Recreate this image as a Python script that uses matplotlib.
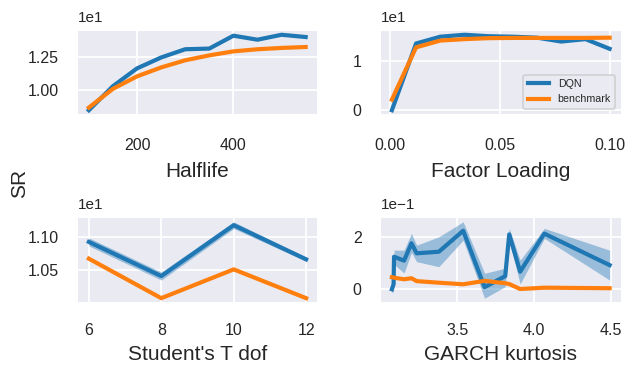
import matplotlib
matplotlib.use("Agg")
import matplotlib.pyplot as plt

# ---- Sharpe ratio sweeps: DQN vs benchmark ----
halflife = [100, 150, 200, 250, 300, 350, 400, 450, 500, 550]
halflife_dqn = [8.46, 10.27, 11.61, 12.43, 13.05, 13.10, 14.07, 13.77, 14.14, 13.97]
halflife_bench = [8.66, 10.07, 11.01, 11.68, 12.22, 12.59, 12.89, 13.05, 13.15, 13.22]

loading = [0.001, 0.012, 0.023, 0.034, 0.045, 0.056, 0.067, 0.078, 0.089, 0.100]
loading_dqn = [-0.1, 13.7, 15.1, 15.5, 15.2, 15.1, 14.9, 14.1, 14.6, 12.6]
loading_bench = [2.1, 12.9, 14.3, 14.6, 14.8, 14.85, 14.85, 14.85, 14.85, 14.9]

dof = [6, 8, 10, 12]
dof_dqn = [10.92, 10.41, 11.17, 10.66]
dof_dqn_lo = [10.86, 10.35, 11.12, 10.63]
dof_dqn_hi = [10.98, 10.47, 11.22, 10.69]
dof_bench = [10.67, 10.08, 10.51, 10.08]

kurt = [3.076, 3.087, 3.090, 3.155, 3.203, 3.237, 3.381, 3.539, 3.678, 3.812, 3.838, 3.909, 4.066, 4.490]
kurt_dqn = [0.0, 0.019, 0.124, 0.109, 0.175, 0.137, 0.143, 0.223, 0.008, 0.050, 0.209, 0.067, 0.212, 0.092]
kurt_dqn_lo = [-0.015, -0.005, 0.095, 0.062, 0.140, 0.105, 0.086, 0.187, -0.034, 0.010, 0.185, 0.020, 0.194, 0.035]
kurt_dqn_hi = [0.015, 0.045, 0.149, 0.149, 0.213, 0.168, 0.200, 0.257, 0.061, 0.080, 0.232, 0.111, 0.232, 0.149]
kurt_bench = [0.046, 0.045, 0.044, 0.038, 0.042, 0.031, 0.025, 0.019, 0.032, 0.023, 0.020, 0.001, 0.006, 0.004]

BLUE = "#1f77b4"
ORANGE = "#ff7f0e"

plt.rcParams.update({
    "font.family": ["Liberation Sans", "DejaVu Sans"],
    "axes.facecolor": "#EAEAF2",
    "axes.edgecolor": "white",
    "axes.grid": True,
    "grid.color": "white",
    "grid.linewidth": 1.3,
    "axes.axisbelow": True,
    "xtick.major.size": 0,
    "ytick.major.size": 0,
    "xtick.major.pad": 15,
    "ytick.major.pad": 14,
    "xtick.labelsize": 11.5,
    "ytick.labelsize": 11.5,
    "axes.labelsize": 15,
    "axes.labelpad": 5.5,
    "text.color": "#262626",
    "axes.labelcolor": "#262626",
    "xtick.color": "#262626",
    "ytick.color": "#262626",
})

W, H = 626, 366
fig = plt.figure(figsize=(W / 100, H / 100), dpi=100)


def px_axes(left, top, right, bottom):
    return fig.add_axes([left / W, 1 - bottom / H, (right - left) / W, (bottom - top) / H])


ax_hl = px_axes(78, 31, 316.5, 114)
ax_fl = px_axes(381, 31, 620.5, 114)
ax_df = px_axes(78, 218, 317, 302)
ax_gk = px_axes(381, 218, 620.5, 302)

LW = 3.0

ax_hl.plot(halflife, halflife_dqn, color=BLUE, lw=LW)
ax_hl.plot(halflife, halflife_bench, color=ORANGE, lw=LW)
ax_hl.set_xlabel("Halflife", labelpad=6.5)

ax_fl.plot(loading, loading_dqn, color=BLUE, lw=LW, label="DQN")
ax_fl.plot(loading, loading_bench, color=ORANGE, lw=LW, label="benchmark")
ax_fl.set_xlabel("Factor Loading", labelpad=6.5)
leg = ax_fl.legend(loc="lower right", fontsize=7.7, frameon=True, facecolor="#EAEAF2",
                   edgecolor="#CCCCCC", framealpha=0.8)
leg.get_frame().set_linewidth(1.3)

# top row sits a touch further from its tick labels
for ax in (ax_hl, ax_fl):
    ax.tick_params(axis="x", pad=17)

ax_df.fill_between(dof, dof_dqn_lo, dof_dqn_hi, color=BLUE, alpha=0.4, lw=0)
ax_df.plot(dof, dof_dqn, color=BLUE, lw=LW)
ax_df.plot(dof, dof_bench, color=ORANGE, lw=LW)
ax_df.set_xlabel("Student's T dof")

ax_gk.fill_between(kurt, kurt_dqn_lo, kurt_dqn_hi, color=BLUE, alpha=0.4, lw=0)
ax_gk.plot(kurt, kurt_dqn, color=BLUE, lw=LW)
ax_gk.plot(kurt, kurt_bench, color=ORANGE, lw=LW)
ax_gk.set_xlabel("GARCH kurtosis")

axes = (ax_hl, ax_fl, ax_df, ax_gk)
for ax in axes:
    ax.ticklabel_format(axis="y", style="sci", scilimits=(0, 0))
    for s in ax.spines.values():
        s.set_visible(False)

# draw once so the formatters know their offsets, then place the
# multiplier a little higher above each panel
fig.canvas.draw()
for ax in axes:
    off = ax.yaxis.get_offset_text()
    label = off.get_text()
    off.set_visible(False)
    ax.annotate(label, xy=(0, 1), xycoords="axes fraction", xytext=(0, 6.5),
                textcoords="offset points", ha="left", va="baseline",
                fontsize=11, color="#262626")

fig.text(20 / W, 0.5, "SR", rotation=90, ha="center", va="center", fontsize=15, color="#262626")

fig.savefig("out.png", dpi=100)
